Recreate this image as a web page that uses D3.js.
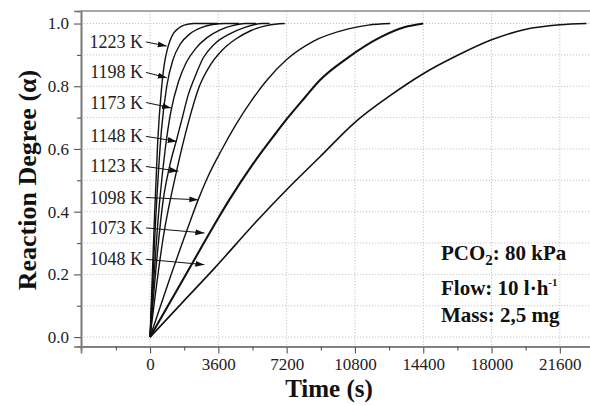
<!DOCTYPE html>
<html>
<head>
<meta charset="utf-8">
<script src="https://cdn.jsdelivr.net/npm/d3@7"></script>
<style>
  body { margin: 0; background: #fff; }
  svg { display: block; font-family: "Liberation Serif", "Times New Roman", serif; }
</style>
</head>
<body>
<div id="chart"></div>
<script>
var w = 590, h = 406;

// temperatures (K), one curve each
var temps = [1223, 1198, 1173, 1148, 1123, 1098, 1073, 1048];

// time (s) / reaction degree for each curve
var t1223 = [0, 200, 400, 600, 750, 900, 1050, 1250, 1500, 1800, 2300, 3000, 3600];
var a1223 = [0, 0.33, 0.62, 0.79, 0.87, 0.915, 0.945, 0.97, 0.985, 0.995, 1.0, 1.0, 1.0];
var t1198 = [0, 300, 600, 880, 1210, 1600, 2100, 2700, 3300, 3950, 4700];
var a1198 = [0, 0.38, 0.66, 0.8, 0.885, 0.935, 0.967, 0.987, 0.997, 1.0, 1.0];
var t1173 = [0, 500, 800, 1100, 1500, 1900, 2400, 3000, 3700, 4400, 5000, 5600];
var a1173 = [0, 0.43, 0.6, 0.72, 0.815, 0.875, 0.92, 0.955, 0.98, 0.994, 1.0, 1.0];
var t1148 = [0, 700, 1050, 1400, 1700, 2000, 2400, 2800, 3400, 4200, 5000, 5900, 6300];
var a1148 = [0, 0.44, 0.55, 0.63, 0.7, 0.77, 0.835, 0.89, 0.935, 0.967, 0.988, 1.0, 1.0];
var t1123 = [0, 700, 1400, 2000, 2600, 3200, 3800, 4500, 5300, 6200, 7100];
var a1123 = [0, 0.32, 0.53, 0.68, 0.8, 0.87, 0.915, 0.95, 0.977, 0.994, 1.0];
var t1098 = [0, 1000, 2000, 2550, 3000, 3800, 4500, 5300, 6100, 7200, 8600, 10400, 11500, 12650];
var a1098 = [0, 0.18, 0.35, 0.44, 0.505, 0.6, 0.675, 0.75, 0.815, 0.885, 0.943, 0.982, 0.995, 1.0];
var t1073 = [0, 1800, 3600, 4200, 5400, 6500, 7200, 8170, 8960, 10400, 12100, 13400, 14400];
var a1073 = [0, 0.19, 0.38, 0.44, 0.55, 0.64, 0.695, 0.765, 0.82, 0.89, 0.955, 0.988, 1.0];
var t1048 = [0, 1700, 3400, 5700, 7200, 8960, 10800, 12650, 14400, 16160, 18000, 19760, 21600, 23000];
var a1048 = [0, 0.11, 0.22, 0.375, 0.47, 0.575, 0.685, 0.77, 0.84, 0.897, 0.948, 0.981, 0.996, 1.0];

var times = [t1223, t1198, t1173, t1148, t1123, t1098, t1073, t1048];
var alphas = [a1223, a1198, a1173, a1148, a1123, a1098, a1073, a1048];

// label baselines and arrow tips (data units)
var labelAlpha = [0.922, 0.825, 0.729, 0.621, 0.525, 0.426, 0.329, 0.229];
var tipTime = [880, 880, 1107, 1407, 1491, 2545, 2862, 2862];
var tipAlpha = [0.928, 0.827, 0.731, 0.624, 0.529, 0.438, 0.332, 0.231];

var xTicks = [0, 3600, 7200, 10800, 14400, 18000, 21600];
var xMinor = [-1800, 1800, 5400, 9000, 12600, 16200, 19800];
var yTicks = [0, 0.2, 0.4, 0.6, 0.8, 1.0];
var yMinor = [0.1, 0.3, 0.5, 0.7, 0.9];

var x = d3.scaleLinear().domain([-3640, 23400]).range([81, 594]);
var y = d3.scaleLinear().domain([-0.03, 1.04]).range([346.5, 11]);

var svg = d3.select("#chart").append("svg")
  .attr("width", w)
  .attr("height", h);

// grid
svg.append("g").selectAll("line")
  .data(yTicks.concat(yMinor))
  .enter().append("line")
    .attr("x1", 81).attr("x2", w)
    .attr("y1", function(d){ return y(d); })
    .attr("y2", function(d){ return y(d); })
    .attr("stroke", "#c4c4c4")
    .attr("stroke-dasharray", "1.2,1.8");

svg.append("g").selectAll("line")
  .data(xTicks)
  .enter().append("line")
    .attr("x1", function(d){ return x(d); })
    .attr("x2", function(d){ return x(d); })
    .attr("y1", 11).attr("y2", 346.5)
    .attr("stroke", "#c4c4c4")
    .attr("stroke-dasharray", "1.2,1.8");

// axes
var xAxis = svg.append("g").attr("transform", "translate(0,346.5)")
  .call(d3.axisBottom(x).tickValues(xTicks).tickSize(7).tickPadding(4).tickFormat(d3.format("d")));
var xAxisMinor = svg.append("g").attr("transform", "translate(0,346.5)")
  .call(d3.axisBottom(x).tickValues(xMinor).tickSize(4).tickFormat(""));
var yAxis = svg.append("g").attr("transform", "translate(81,0)")
  .call(d3.axisLeft(y).tickValues(yTicks).tickSize(7).tickPadding(5).tickFormat(d3.format(".1f")));
var yAxisMinor = svg.append("g").attr("transform", "translate(81,0)")
  .call(d3.axisLeft(y).tickValues(yMinor).tickSize(4).tickFormat(""));

[xAxis, xAxisMinor, yAxis, yAxisMinor].forEach(function(g){
  g.selectAll(".domain").attr("stroke", "#7a7a7a").attr("stroke-width", 1.6);
  g.selectAll(".tick line").attr("stroke", "#555").attr("stroke-width", 1.1);
  g.selectAll("text").attr("font-family", "Liberation Serif, serif")
    .attr("font-size", 17).attr("fill", "#222");
});

// top frame
svg.append("line")
  .attr("x1", 81).attr("x2", w)
  .attr("y1", 11).attr("y2", 11)
  .attr("stroke", "#8a8a8a").attr("stroke-width", 1.4);

// curves
var line = d3.line()
  .x(function(d){ return x(d[0]); })
  .y(function(d){ return y(d[1]); })
  .curve(d3.curveMonotoneX);

svg.append("g").selectAll("path")
  .data(temps)
  .enter().append("path")
    .attr("d", function(d, i){
      return line(times[i].map(function(t, j){ return [t, alphas[i][j]]; }));
    })
    .attr("fill", "none")
    .attr("stroke", "#111")
    .attr("stroke-width", function(d){ return d == 1073 ? 2.1 : (d == 1048 ? 1.6 : 1.4); });

// arrow head
svg.append("defs").append("marker")
  .attr("id", "head")
  .attr("markerUnits", "userSpaceOnUse")
  .attr("markerWidth", 10).attr("markerHeight", 8)
  .attr("refX", 9).attr("refY", 3)
  .attr("orient", "auto")
  .append("path")
    .attr("d", "M0,0L9,3L0,6Z")
    .attr("fill", "#111");

var ann = svg.append("g");
ann.selectAll("text")
  .data(temps)
  .enter().append("text")
    .attr("x", x(-369))
    .attr("y", function(d, i){ return y(labelAlpha[i]); })
    .attr("text-anchor", "end")
    .attr("font-size", 18)
    .attr("fill", "#222")
    .text(function(d){ return d + " K"; });

ann.selectAll("line")
  .data(temps)
  .enter().append("line")
    .attr("x1", x(-210))
    .attr("y1", function(d, i){ return y(labelAlpha[i]) - 6; })
    .attr("x2", function(d, i){ return x(tipTime[i]); })
    .attr("y2", function(d, i){ return y(tipAlpha[i]); })
    .attr("stroke", "#111")
    .attr("stroke-width", 1)
    .attr("marker-end", "url(#head)");

// axis titles
svg.append("text")
  .attr("x", 329).attr("y", 397)
  .attr("text-anchor", "middle")
  .attr("font-weight", "bold")
  .attr("font-size", 25)
  .attr("fill", "#111")
  .text("Time (s)");

svg.append("text")
  .attr("transform", "translate(36,180) rotate(-90)")
  .attr("text-anchor", "middle")
  .attr("font-weight", "bold")
  .attr("font-size", 26)
  .attr("fill", "#111")
  .text("Reaction Degree (α)");

// conditions box
var info = svg.append("g")
  .attr("font-weight", "bold")
  .attr("font-size", 21)
  .attr("fill", "#111");

var p = info.append("text").attr("x", 441).attr("y", 260);
p.append("tspan").text("PCO");
p.append("tspan").attr("font-size", 15).attr("dy", 5).text("2");
p.append("tspan").attr("dy", -5).text(": 80 kPa");

var f = info.append("text").attr("x", 441).attr("y", 295);
f.append("tspan").text("Flow: 10 l·h");
f.append("tspan").attr("font-size", 11).attr("dy", -9).text("-1");

info.append("text").attr("x", 441).attr("y", 322).text("Mass: 2,5 mg");
</script>
</body>
</html>
